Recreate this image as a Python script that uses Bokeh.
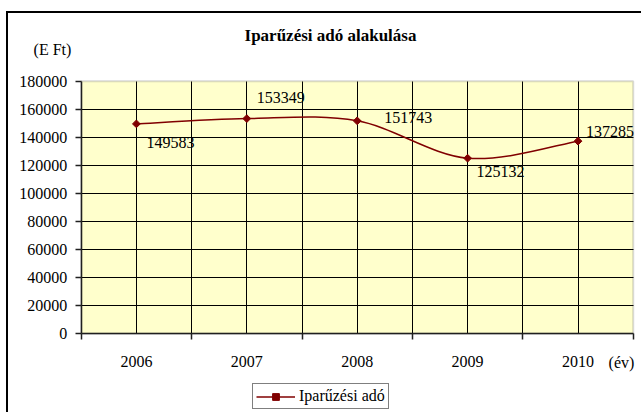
from bokeh.plotting import figure
from bokeh.models import (Range1d, FixedTicker, NumeralTickFormatter, Label,
                          Legend, LegendItem, ColumnDataSource, BoxAnnotation, Grid)
from bokeh.core.properties import value
from bokeh.embed import file_html
from bokeh.resources import INLINE
import math

# ---- data ----
years = ["2006", "2007", "2008", "2009", "2010"]
tax = [149583, 153349, 151743, 125132, 137285]
y_ticks = [0, 20000, 40000, 60000, 80000, 100000, 120000, 140000, 160000, 180000]
title_text = "Iparűzési adó alakulása"
y_unit = "(E Ft)"
x_unit = "(év)"
series_name = "Iparűzési adó"

# ---- layout / styles ----
FONT = "Liberation Serif"
LINE_COLOR = "#800000"
label_dx = [10, 10, 27, 9, 8]
label_dy = [19, -21, -3, 13, -10]

W, H = 635, 401            # canvas size
CANVAS_LEFT, CANVAS_TOP = 8, 13
AREA_LEFT_PX, AREA_BOTTOM_PX = 80.7, 333.3   # page pixel position of plot-area corner
PX_PER_CAT = 110.4
AREA_HEIGHT_PX = 252.6

n = len(years)
xs = [i + 0.5 for i in range(n)]
ymax = y_ticks[-1]
px_per_y = AREA_HEIGHT_PX / ymax


def dx(px):
    return (px - AREA_LEFT_PX) / PX_PER_CAT


def dy(py):
    return (AREA_BOTTOM_PX - py) / px_per_y


p = figure(width=W, height=H, min_border=0,
           x_range=Range1d(dx(CANVAS_LEFT), dx(CANVAS_LEFT + W)),
           y_range=Range1d(dy(CANVAS_TOP + H), dy(CANVAS_TOP)),
           output_backend="svg", toolbar_location=None)
p.styles = {"border-top": "2px solid black", "border-left": "2px solid black",
            "margin-top": "11px", "margin-left": "6px"}
p.background_fill_color = "white"
p.border_fill_color = "white"
p.outline_line_color = None

# plot area
p.add_layout(BoxAnnotation(left=0, right=n, bottom=0, top=ymax, level="image",
                           fill_color="#FFFFCC", fill_alpha=1,
                           line_color="#808080", line_width=2))

# axes
xa = p.xaxis[0]
xa.fixed_location = 0
xa.bounds = (0, n)
xa.ticker = FixedTicker(ticks=xs, minor_ticks=list(range(n + 1)))
xa.major_label_overrides = {x: y for x, y in zip(xs, years)}
xa.major_tick_out = 0
xa.major_tick_in = 0
xa.minor_tick_out = 6
xa.minor_tick_in = 0
xa.major_label_standoff = 16
ya = p.yaxis[0]
ya.fixed_location = 0
ya.bounds = (0, ymax)
ya.ticker = FixedTicker(ticks=y_ticks)
ya.formatter = NumeralTickFormatter(format="0")
ya.major_tick_out = 6
ya.major_tick_in = 0
ya.major_label_standoff = 8
for ax in (xa, ya):
    ax.axis_line_color = "#202020"
    ax.axis_line_width = 1.5
    ax.major_tick_line_color = "#202020"
    ax.minor_tick_line_color = "#202020"
    ax.major_tick_line_width = 1.5
    ax.minor_tick_line_width = 1.5
    ax.major_label_text_font = FONT
    ax.major_label_text_font_size = "16px"
    ax.major_label_text_color = "black"
ya.minor_tick_line_color = None

# grid
has_cross = "cross_bounds" in Grid.properties()
xg = p.xgrid[0]
xg.ticker = FixedTicker(ticks=[i * 0.5 for i in range(1, 2 * n)])
xg.grid_line_color = "black"
xg.grid_line_width = 1
yg = p.ygrid[0]
yg.ticker = FixedTicker(ticks=y_ticks[1:-1])
yg.grid_line_color = "black"
yg.grid_line_width = 1
if has_cross:
    xg.cross_bounds = (0, ymax)
    yg.cross_bounds = (0, n)
else:
    xg.visible = False
    yg.visible = False
    gx = [i * 0.5 for i in range(1, 2 * n)]
    p.segment(x0=gx, y0=[0] * len(gx), x1=gx, y1=[ymax] * len(gx), line_color="black", line_width=1,
              level="underlay")
    gy = y_ticks[1:-1]
    p.segment(x0=[0] * len(gy), y0=gy, x1=[n] * len(gy), y1=gy, line_color="black", line_width=1,
              level="underlay")

# smooth line (Bezier segments through the data points)
x0, y0, x1, y1, cx0, cy0, cx1, cy1 = [], [], [], [], [], [], [], []
for i in range(n - 1):
    pm = (xs[i - 1], tax[i - 1]) if i > 0 else (xs[i], tax[i])
    pa = (xs[i], tax[i])
    pb = (xs[i + 1], tax[i + 1])
    pn = (xs[i + 2], tax[i + 2]) if i + 2 < n else (xs[i + 1], tax[i + 1])
    x0.append(pa[0]); y0.append(pa[1]); x1.append(pb[0]); y1.append(pb[1])
    cx0.append(pa[0] + (pb[0] - pm[0]) / 6); cy0.append(pa[1] + (pb[1] - pm[1]) / 6)
    cx1.append(pb[0] - (pn[0] - pa[0]) / 6); cy1.append(pb[1] - (pn[1] - pa[1]) / 6)
bez = p.bezier(x0=x0, y0=y0, x1=x1, y1=y1, cx0=cx0, cy0=cy0, cx1=cx1, cy1=cy1,
               line_color=LINE_COLOR, line_width=1.5)
sc = p.scatter(xs, tax, marker="square", angle=math.pi / 4, size=5.5,
               fill_color=LINE_COLOR, line_color=LINE_COLOR)

# data labels
src = ColumnDataSource(dict(x=xs, y=tax, t=[str(v) for v in tax], dx=label_dx, dy=label_dy))
p.text(x="x", y="y", text="t", x_offset="dx", y_offset="dy", source=src,
       text_font=value(FONT), text_font_size="16px", text_color="black",
       text_align="left", text_baseline="middle")

# title and unit labels
p.add_layout(Label(x=dx(330), y=dy(35), text=title_text,
                   text_font=FONT, text_font_size="17px", text_font_style="bold",
                   text_align="center", text_baseline="middle", text_color="black"))
p.add_layout(Label(x=dx(52), y=dy(49), text=y_unit,
                   text_font=FONT, text_font_size="16px",
                   text_align="center", text_baseline="middle", text_color="black"))
p.add_layout(Label(x=dx(621), y=dy(362), text=x_unit,
                   text_font=FONT, text_font_size="16px",
                   text_align="center", text_baseline="middle", text_color="black"))

# legend
legend = Legend(items=[LegendItem(label=series_name, renderers=[bez, sc], index=0)],
                location=(252 - CANVAS_LEFT, CANVAS_TOP + H - 409), orientation="horizontal",
                border_line_color="black", border_line_width=1,
                background_fill_color="white", background_fill_alpha=1,
                padding=3, margin=0, spacing=0, glyph_width=39, glyph_height=17,
                label_height=17, label_standoff=4,
                label_text_font=FONT, label_text_font_size="16px", label_text_color="black")
p.add_layout(legend, "center")

open("out.html", "w").write(file_html(p, INLINE))
